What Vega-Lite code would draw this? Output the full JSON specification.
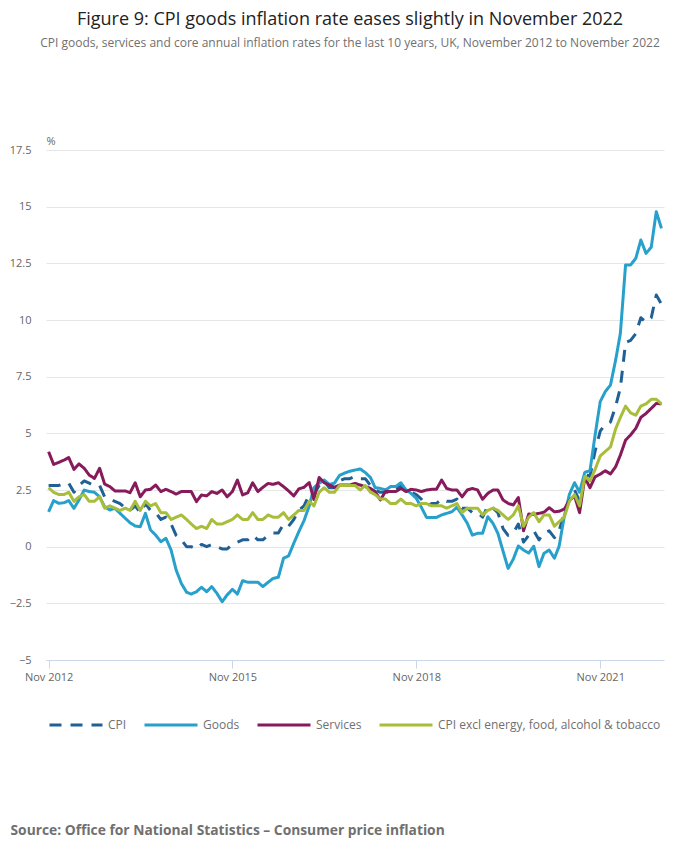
{
  "$schema": "https://vega.github.io/schema/vega-lite/v6.json",
  "width": 618,
  "height": 510,
  "autosize": "none",
  "padding": {"left": 46, "top": 150, "right": 36, "bottom": 197},
  "title": {
    "text": "Figure 9: CPI goods inflation rate eases slightly in November 2022",
    "subtitle": "CPI goods, services and core annual inflation rates for the last 10 years, UK, November 2012 to November 2022",
    "anchor": "middle",
    "frame": "group",
    "font": "Open Sans",
    "fontSize": 18,
    "fontWeight": "normal",
    "color": "#222222",
    "subtitleFont": "Open Sans",
    "subtitleFontSize": 12,
    "subtitleColor": "#707070",
    "subtitlePadding": 9,
    "offset": 86,
    "dx": -5
  },
  "config": {"view": {"stroke": null}, "font": "Open Sans"},
  "data": {
    "values": [
      {"date": "2012-11-01", "series": "CPI", "value": 2.7},
      {"date": "2012-12-01", "series": "CPI", "value": 2.7},
      {"date": "2013-01-01", "series": "CPI", "value": 2.7},
      {"date": "2013-02-01", "series": "CPI", "value": 2.8},
      {"date": "2013-03-01", "series": "CPI", "value": 2.8},
      {"date": "2013-04-01", "series": "CPI", "value": 2.4},
      {"date": "2013-05-01", "series": "CPI", "value": 2.7},
      {"date": "2013-06-01", "series": "CPI", "value": 2.9},
      {"date": "2013-07-01", "series": "CPI", "value": 2.8},
      {"date": "2013-08-01", "series": "CPI", "value": 2.7},
      {"date": "2013-09-01", "series": "CPI", "value": 2.7},
      {"date": "2013-10-01", "series": "CPI", "value": 2.2},
      {"date": "2013-11-01", "series": "CPI", "value": 2.1},
      {"date": "2013-12-01", "series": "CPI", "value": 2.0},
      {"date": "2014-01-01", "series": "CPI", "value": 1.9},
      {"date": "2014-02-01", "series": "CPI", "value": 1.7},
      {"date": "2014-03-01", "series": "CPI", "value": 1.6},
      {"date": "2014-04-01", "series": "CPI", "value": 1.8},
      {"date": "2014-05-01", "series": "CPI", "value": 1.5},
      {"date": "2014-06-01", "series": "CPI", "value": 1.9},
      {"date": "2014-07-01", "series": "CPI", "value": 1.6},
      {"date": "2014-08-01", "series": "CPI", "value": 1.5},
      {"date": "2014-09-01", "series": "CPI", "value": 1.2},
      {"date": "2014-10-01", "series": "CPI", "value": 1.3},
      {"date": "2014-11-01", "series": "CPI", "value": 1.0},
      {"date": "2014-12-01", "series": "CPI", "value": 0.5},
      {"date": "2015-01-01", "series": "CPI", "value": 0.3},
      {"date": "2015-02-01", "series": "CPI", "value": 0.0},
      {"date": "2015-03-01", "series": "CPI", "value": 0.0},
      {"date": "2015-04-01", "series": "CPI", "value": -0.1},
      {"date": "2015-05-01", "series": "CPI", "value": 0.1},
      {"date": "2015-06-01", "series": "CPI", "value": 0.0},
      {"date": "2015-07-01", "series": "CPI", "value": 0.1},
      {"date": "2015-08-01", "series": "CPI", "value": 0.0},
      {"date": "2015-09-01", "series": "CPI", "value": -0.1},
      {"date": "2015-10-01", "series": "CPI", "value": -0.1},
      {"date": "2015-11-01", "series": "CPI", "value": 0.1},
      {"date": "2015-12-01", "series": "CPI", "value": 0.2},
      {"date": "2016-01-01", "series": "CPI", "value": 0.3},
      {"date": "2016-02-01", "series": "CPI", "value": 0.3},
      {"date": "2016-03-01", "series": "CPI", "value": 0.5},
      {"date": "2016-04-01", "series": "CPI", "value": 0.3},
      {"date": "2016-05-01", "series": "CPI", "value": 0.3},
      {"date": "2016-06-01", "series": "CPI", "value": 0.5},
      {"date": "2016-07-01", "series": "CPI", "value": 0.6},
      {"date": "2016-08-01", "series": "CPI", "value": 0.6},
      {"date": "2016-09-01", "series": "CPI", "value": 1.0},
      {"date": "2016-10-01", "series": "CPI", "value": 0.9},
      {"date": "2016-11-01", "series": "CPI", "value": 1.2},
      {"date": "2016-12-01", "series": "CPI", "value": 1.6},
      {"date": "2017-01-01", "series": "CPI", "value": 1.8},
      {"date": "2017-02-01", "series": "CPI", "value": 2.3},
      {"date": "2017-03-01", "series": "CPI", "value": 2.3},
      {"date": "2017-04-01", "series": "CPI", "value": 2.7},
      {"date": "2017-05-01", "series": "CPI", "value": 2.9},
      {"date": "2017-06-01", "series": "CPI", "value": 2.6},
      {"date": "2017-07-01", "series": "CPI", "value": 2.6},
      {"date": "2017-08-01", "series": "CPI", "value": 2.9},
      {"date": "2017-09-01", "series": "CPI", "value": 3.0},
      {"date": "2017-10-01", "series": "CPI", "value": 3.0},
      {"date": "2017-11-01", "series": "CPI", "value": 3.1},
      {"date": "2017-12-01", "series": "CPI", "value": 3.0},
      {"date": "2018-01-01", "series": "CPI", "value": 3.0},
      {"date": "2018-02-01", "series": "CPI", "value": 2.7},
      {"date": "2018-03-01", "series": "CPI", "value": 2.5},
      {"date": "2018-04-01", "series": "CPI", "value": 2.4},
      {"date": "2018-05-01", "series": "CPI", "value": 2.4},
      {"date": "2018-06-01", "series": "CPI", "value": 2.4},
      {"date": "2018-07-01", "series": "CPI", "value": 2.5},
      {"date": "2018-08-01", "series": "CPI", "value": 2.7},
      {"date": "2018-09-01", "series": "CPI", "value": 2.4},
      {"date": "2018-10-01", "series": "CPI", "value": 2.4},
      {"date": "2018-11-01", "series": "CPI", "value": 2.3},
      {"date": "2018-12-01", "series": "CPI", "value": 2.1},
      {"date": "2019-01-01", "series": "CPI", "value": 1.8},
      {"date": "2019-02-01", "series": "CPI", "value": 1.9},
      {"date": "2019-03-01", "series": "CPI", "value": 1.9},
      {"date": "2019-04-01", "series": "CPI", "value": 2.1},
      {"date": "2019-05-01", "series": "CPI", "value": 2.0},
      {"date": "2019-06-01", "series": "CPI", "value": 2.0},
      {"date": "2019-07-01", "series": "CPI", "value": 2.1},
      {"date": "2019-08-01", "series": "CPI", "value": 1.7},
      {"date": "2019-09-01", "series": "CPI", "value": 1.7},
      {"date": "2019-10-01", "series": "CPI", "value": 1.5},
      {"date": "2019-11-01", "series": "CPI", "value": 1.5},
      {"date": "2019-12-01", "series": "CPI", "value": 1.3},
      {"date": "2020-01-01", "series": "CPI", "value": 1.8},
      {"date": "2020-02-01", "series": "CPI", "value": 1.7},
      {"date": "2020-03-01", "series": "CPI", "value": 1.5},
      {"date": "2020-04-01", "series": "CPI", "value": 0.8},
      {"date": "2020-05-01", "series": "CPI", "value": 0.5},
      {"date": "2020-06-01", "series": "CPI", "value": 0.6},
      {"date": "2020-07-01", "series": "CPI", "value": 1.0},
      {"date": "2020-08-01", "series": "CPI", "value": 0.2},
      {"date": "2020-09-01", "series": "CPI", "value": 0.5},
      {"date": "2020-10-01", "series": "CPI", "value": 0.7},
      {"date": "2020-11-01", "series": "CPI", "value": 0.3},
      {"date": "2020-12-01", "series": "CPI", "value": 0.6},
      {"date": "2021-01-01", "series": "CPI", "value": 0.7},
      {"date": "2021-02-01", "series": "CPI", "value": 0.4},
      {"date": "2021-03-01", "series": "CPI", "value": 0.7},
      {"date": "2021-04-01", "series": "CPI", "value": 1.5},
      {"date": "2021-05-01", "series": "CPI", "value": 2.1},
      {"date": "2021-06-01", "series": "CPI", "value": 2.5},
      {"date": "2021-07-01", "series": "CPI", "value": 2.0},
      {"date": "2021-08-01", "series": "CPI", "value": 3.2},
      {"date": "2021-09-01", "series": "CPI", "value": 3.1},
      {"date": "2021-10-01", "series": "CPI", "value": 4.2},
      {"date": "2021-11-01", "series": "CPI", "value": 5.1},
      {"date": "2021-12-01", "series": "CPI", "value": 5.4},
      {"date": "2022-01-01", "series": "CPI", "value": 5.5},
      {"date": "2022-02-01", "series": "CPI", "value": 6.2},
      {"date": "2022-03-01", "series": "CPI", "value": 7.0},
      {"date": "2022-04-01", "series": "CPI", "value": 9.0},
      {"date": "2022-05-01", "series": "CPI", "value": 9.1},
      {"date": "2022-06-01", "series": "CPI", "value": 9.4},
      {"date": "2022-07-01", "series": "CPI", "value": 10.1},
      {"date": "2022-08-01", "series": "CPI", "value": 9.9},
      {"date": "2022-09-01", "series": "CPI", "value": 10.1},
      {"date": "2022-10-01", "series": "CPI", "value": 11.1},
      {"date": "2022-11-01", "series": "CPI", "value": 10.7},
      {"date": "2012-11-01", "series": "Goods", "value": 1.54},
      {"date": "2012-12-01", "series": "Goods", "value": 2.03},
      {"date": "2013-01-01", "series": "Goods", "value": 1.91},
      {"date": "2013-02-01", "series": "Goods", "value": 1.94},
      {"date": "2013-03-01", "series": "Goods", "value": 2.03},
      {"date": "2013-04-01", "series": "Goods", "value": 1.69},
      {"date": "2013-05-01", "series": "Goods", "value": 2.06},
      {"date": "2013-06-01", "series": "Goods", "value": 2.5},
      {"date": "2013-07-01", "series": "Goods", "value": 2.43},
      {"date": "2013-08-01", "series": "Goods", "value": 2.4},
      {"date": "2013-09-01", "series": "Goods", "value": 2.2},
      {"date": "2013-10-01", "series": "Goods", "value": 1.76},
      {"date": "2013-11-01", "series": "Goods", "value": 1.62},
      {"date": "2013-12-01", "series": "Goods", "value": 1.69},
      {"date": "2014-01-01", "series": "Goods", "value": 1.47},
      {"date": "2014-02-01", "series": "Goods", "value": 1.25},
      {"date": "2014-03-01", "series": "Goods", "value": 1.06},
      {"date": "2014-04-01", "series": "Goods", "value": 0.91},
      {"date": "2014-05-01", "series": "Goods", "value": 0.88},
      {"date": "2014-06-01", "series": "Goods", "value": 1.47},
      {"date": "2014-07-01", "series": "Goods", "value": 0.74},
      {"date": "2014-08-01", "series": "Goods", "value": 0.51},
      {"date": "2014-09-01", "series": "Goods", "value": 0.22},
      {"date": "2014-10-01", "series": "Goods", "value": 0.37},
      {"date": "2014-11-01", "series": "Goods", "value": -0.15},
      {"date": "2014-12-01", "series": "Goods", "value": -1.03},
      {"date": "2015-01-01", "series": "Goods", "value": -1.62},
      {"date": "2015-02-01", "series": "Goods", "value": -2.01},
      {"date": "2015-03-01", "series": "Goods", "value": -2.09},
      {"date": "2015-04-01", "series": "Goods", "value": -1.99},
      {"date": "2015-05-01", "series": "Goods", "value": -1.79},
      {"date": "2015-06-01", "series": "Goods", "value": -1.99},
      {"date": "2015-07-01", "series": "Goods", "value": -1.76},
      {"date": "2015-08-01", "series": "Goods", "value": -2.06},
      {"date": "2015-09-01", "series": "Goods", "value": -2.43},
      {"date": "2015-10-01", "series": "Goods", "value": -2.13},
      {"date": "2015-11-01", "series": "Goods", "value": -1.88},
      {"date": "2015-12-01", "series": "Goods", "value": -2.09},
      {"date": "2016-01-01", "series": "Goods", "value": -1.5},
      {"date": "2016-02-01", "series": "Goods", "value": -1.57},
      {"date": "2016-03-01", "series": "Goods", "value": -1.57},
      {"date": "2016-04-01", "series": "Goods", "value": -1.57},
      {"date": "2016-05-01", "series": "Goods", "value": -1.76},
      {"date": "2016-06-01", "series": "Goods", "value": -1.57},
      {"date": "2016-07-01", "series": "Goods", "value": -1.4},
      {"date": "2016-08-01", "series": "Goods", "value": -1.35},
      {"date": "2016-09-01", "series": "Goods", "value": -0.51},
      {"date": "2016-10-01", "series": "Goods", "value": -0.41},
      {"date": "2016-11-01", "series": "Goods", "value": 0.15},
      {"date": "2016-12-01", "series": "Goods", "value": 0.66},
      {"date": "2017-01-01", "series": "Goods", "value": 1.15},
      {"date": "2017-02-01", "series": "Goods", "value": 1.8},
      {"date": "2017-03-01", "series": "Goods", "value": 2.6},
      {"date": "2017-04-01", "series": "Goods", "value": 2.8},
      {"date": "2017-05-01", "series": "Goods", "value": 2.94},
      {"date": "2017-06-01", "series": "Goods", "value": 2.75},
      {"date": "2017-07-01", "series": "Goods", "value": 2.8},
      {"date": "2017-08-01", "series": "Goods", "value": 3.15},
      {"date": "2017-09-01", "series": "Goods", "value": 3.25},
      {"date": "2017-10-01", "series": "Goods", "value": 3.33},
      {"date": "2017-11-01", "series": "Goods", "value": 3.38},
      {"date": "2017-12-01", "series": "Goods", "value": 3.43},
      {"date": "2018-01-01", "series": "Goods", "value": 3.27},
      {"date": "2018-02-01", "series": "Goods", "value": 3.05},
      {"date": "2018-03-01", "series": "Goods", "value": 2.6},
      {"date": "2018-04-01", "series": "Goods", "value": 2.57},
      {"date": "2018-05-01", "series": "Goods", "value": 2.5},
      {"date": "2018-06-01", "series": "Goods", "value": 2.65},
      {"date": "2018-07-01", "series": "Goods", "value": 2.65},
      {"date": "2018-08-01", "series": "Goods", "value": 2.82},
      {"date": "2018-09-01", "series": "Goods", "value": 2.5},
      {"date": "2018-10-01", "series": "Goods", "value": 2.35},
      {"date": "2018-11-01", "series": "Goods", "value": 2.13},
      {"date": "2018-12-01", "series": "Goods", "value": 1.74},
      {"date": "2019-01-01", "series": "Goods", "value": 1.29},
      {"date": "2019-02-01", "series": "Goods", "value": 1.29},
      {"date": "2019-03-01", "series": "Goods", "value": 1.29},
      {"date": "2019-04-01", "series": "Goods", "value": 1.4},
      {"date": "2019-05-01", "series": "Goods", "value": 1.47},
      {"date": "2019-06-01", "series": "Goods", "value": 1.54},
      {"date": "2019-07-01", "series": "Goods", "value": 1.74},
      {"date": "2019-08-01", "series": "Goods", "value": 1.4},
      {"date": "2019-09-01", "series": "Goods", "value": 1.03},
      {"date": "2019-10-01", "series": "Goods", "value": 0.51},
      {"date": "2019-11-01", "series": "Goods", "value": 0.59},
      {"date": "2019-12-01", "series": "Goods", "value": 0.59},
      {"date": "2020-01-01", "series": "Goods", "value": 1.32},
      {"date": "2020-02-01", "series": "Goods", "value": 1.03},
      {"date": "2020-03-01", "series": "Goods", "value": 0.59},
      {"date": "2020-04-01", "series": "Goods", "value": -0.2},
      {"date": "2020-05-01", "series": "Goods", "value": -0.96},
      {"date": "2020-06-01", "series": "Goods", "value": -0.55},
      {"date": "2020-07-01", "series": "Goods", "value": 0.03},
      {"date": "2020-08-01", "series": "Goods", "value": -0.15},
      {"date": "2020-09-01", "series": "Goods", "value": -0.28},
      {"date": "2020-10-01", "series": "Goods", "value": 0.02},
      {"date": "2020-11-01", "series": "Goods", "value": -0.88},
      {"date": "2020-12-01", "series": "Goods", "value": -0.29},
      {"date": "2021-01-01", "series": "Goods", "value": -0.15},
      {"date": "2021-02-01", "series": "Goods", "value": -0.51},
      {"date": "2021-03-01", "series": "Goods", "value": 0.02},
      {"date": "2021-04-01", "series": "Goods", "value": 1.35},
      {"date": "2021-05-01", "series": "Goods", "value": 2.3},
      {"date": "2021-06-01", "series": "Goods", "value": 2.82},
      {"date": "2021-07-01", "series": "Goods", "value": 2.4},
      {"date": "2021-08-01", "series": "Goods", "value": 3.28},
      {"date": "2021-09-01", "series": "Goods", "value": 3.35},
      {"date": "2021-10-01", "series": "Goods", "value": 4.9},
      {"date": "2021-11-01", "series": "Goods", "value": 6.4},
      {"date": "2021-12-01", "series": "Goods", "value": 6.84},
      {"date": "2022-01-01", "series": "Goods", "value": 7.13},
      {"date": "2022-02-01", "series": "Goods", "value": 8.24},
      {"date": "2022-03-01", "series": "Goods", "value": 9.41},
      {"date": "2022-04-01", "series": "Goods", "value": 12.43},
      {"date": "2022-05-01", "series": "Goods", "value": 12.43},
      {"date": "2022-06-01", "series": "Goods", "value": 12.72},
      {"date": "2022-07-01", "series": "Goods", "value": 13.53},
      {"date": "2022-08-01", "series": "Goods", "value": 12.94},
      {"date": "2022-09-01", "series": "Goods", "value": 13.21},
      {"date": "2022-10-01", "series": "Goods", "value": 14.78},
      {"date": "2022-11-01", "series": "Goods", "value": 14.04},
      {"date": "2012-11-01", "series": "Services", "value": 4.19},
      {"date": "2012-12-01", "series": "Services", "value": 3.63},
      {"date": "2013-01-01", "series": "Services", "value": 3.72},
      {"date": "2013-02-01", "series": "Services", "value": 3.82},
      {"date": "2013-03-01", "series": "Services", "value": 3.93},
      {"date": "2013-04-01", "series": "Services", "value": 3.41},
      {"date": "2013-05-01", "series": "Services", "value": 3.65},
      {"date": "2013-06-01", "series": "Services", "value": 3.46},
      {"date": "2013-07-01", "series": "Services", "value": 3.16},
      {"date": "2013-08-01", "series": "Services", "value": 3.01},
      {"date": "2013-09-01", "series": "Services", "value": 3.46},
      {"date": "2013-10-01", "series": "Services", "value": 2.76},
      {"date": "2013-11-01", "series": "Services", "value": 2.65},
      {"date": "2013-12-01", "series": "Services", "value": 2.46},
      {"date": "2014-01-01", "series": "Services", "value": 2.46},
      {"date": "2014-02-01", "series": "Services", "value": 2.46},
      {"date": "2014-03-01", "series": "Services", "value": 2.38},
      {"date": "2014-04-01", "series": "Services", "value": 2.82},
      {"date": "2014-05-01", "series": "Services", "value": 2.2},
      {"date": "2014-06-01", "series": "Services", "value": 2.5},
      {"date": "2014-07-01", "series": "Services", "value": 2.53},
      {"date": "2014-08-01", "series": "Services", "value": 2.72},
      {"date": "2014-09-01", "series": "Services", "value": 2.43},
      {"date": "2014-10-01", "series": "Services", "value": 2.53},
      {"date": "2014-11-01", "series": "Services", "value": 2.43},
      {"date": "2014-12-01", "series": "Services", "value": 2.32},
      {"date": "2015-01-01", "series": "Services", "value": 2.43},
      {"date": "2015-02-01", "series": "Services", "value": 2.43},
      {"date": "2015-03-01", "series": "Services", "value": 2.43},
      {"date": "2015-04-01", "series": "Services", "value": 1.99},
      {"date": "2015-05-01", "series": "Services", "value": 2.28},
      {"date": "2015-06-01", "series": "Services", "value": 2.24},
      {"date": "2015-07-01", "series": "Services", "value": 2.43},
      {"date": "2015-08-01", "series": "Services", "value": 2.35},
      {"date": "2015-09-01", "series": "Services", "value": 2.5},
      {"date": "2015-10-01", "series": "Services", "value": 2.2},
      {"date": "2015-11-01", "series": "Services", "value": 2.43},
      {"date": "2015-12-01", "series": "Services", "value": 2.94},
      {"date": "2016-01-01", "series": "Services", "value": 2.28},
      {"date": "2016-02-01", "series": "Services", "value": 2.38},
      {"date": "2016-03-01", "series": "Services", "value": 2.82},
      {"date": "2016-04-01", "series": "Services", "value": 2.43},
      {"date": "2016-05-01", "series": "Services", "value": 2.62},
      {"date": "2016-06-01", "series": "Services", "value": 2.79},
      {"date": "2016-07-01", "series": "Services", "value": 2.75},
      {"date": "2016-08-01", "series": "Services", "value": 2.82},
      {"date": "2016-09-01", "series": "Services", "value": 2.65},
      {"date": "2016-10-01", "series": "Services", "value": 2.46},
      {"date": "2016-11-01", "series": "Services", "value": 2.24},
      {"date": "2016-12-01", "series": "Services", "value": 2.55},
      {"date": "2017-01-01", "series": "Services", "value": 2.62},
      {"date": "2017-02-01", "series": "Services", "value": 2.83},
      {"date": "2017-03-01", "series": "Services", "value": 2.08},
      {"date": "2017-04-01", "series": "Services", "value": 3.05},
      {"date": "2017-05-01", "series": "Services", "value": 2.82},
      {"date": "2017-06-01", "series": "Services", "value": 2.72},
      {"date": "2017-07-01", "series": "Services", "value": 2.62},
      {"date": "2017-08-01", "series": "Services", "value": 2.72},
      {"date": "2017-09-01", "series": "Services", "value": 2.72},
      {"date": "2017-10-01", "series": "Services", "value": 2.72},
      {"date": "2017-11-01", "series": "Services", "value": 2.79},
      {"date": "2017-12-01", "series": "Services", "value": 2.72},
      {"date": "2018-01-01", "series": "Services", "value": 2.65},
      {"date": "2018-02-01", "series": "Services", "value": 2.57},
      {"date": "2018-03-01", "series": "Services", "value": 2.43},
      {"date": "2018-04-01", "series": "Services", "value": 2.06},
      {"date": "2018-05-01", "series": "Services", "value": 2.43},
      {"date": "2018-06-01", "series": "Services", "value": 2.43},
      {"date": "2018-07-01", "series": "Services", "value": 2.43},
      {"date": "2018-08-01", "series": "Services", "value": 2.57},
      {"date": "2018-09-01", "series": "Services", "value": 2.43},
      {"date": "2018-10-01", "series": "Services", "value": 2.53},
      {"date": "2018-11-01", "series": "Services", "value": 2.5},
      {"date": "2018-12-01", "series": "Services", "value": 2.43},
      {"date": "2019-01-01", "series": "Services", "value": 2.5},
      {"date": "2019-02-01", "series": "Services", "value": 2.53},
      {"date": "2019-03-01", "series": "Services", "value": 2.53},
      {"date": "2019-04-01", "series": "Services", "value": 2.94},
      {"date": "2019-05-01", "series": "Services", "value": 2.57},
      {"date": "2019-06-01", "series": "Services", "value": 2.5},
      {"date": "2019-07-01", "series": "Services", "value": 2.5},
      {"date": "2019-08-01", "series": "Services", "value": 2.2},
      {"date": "2019-09-01", "series": "Services", "value": 2.5},
      {"date": "2019-10-01", "series": "Services", "value": 2.57},
      {"date": "2019-11-01", "series": "Services", "value": 2.5},
      {"date": "2019-12-01", "series": "Services", "value": 2.09},
      {"date": "2020-01-01", "series": "Services", "value": 2.35},
      {"date": "2020-02-01", "series": "Services", "value": 2.5},
      {"date": "2020-03-01", "series": "Services", "value": 2.5},
      {"date": "2020-04-01", "series": "Services", "value": 2.06},
      {"date": "2020-05-01", "series": "Services", "value": 1.91},
      {"date": "2020-06-01", "series": "Services", "value": 1.84},
      {"date": "2020-07-01", "series": "Services", "value": 2.17},
      {"date": "2020-08-01", "series": "Services", "value": 0.7},
      {"date": "2020-09-01", "series": "Services", "value": 1.44},
      {"date": "2020-10-01", "series": "Services", "value": 1.42},
      {"date": "2020-11-01", "series": "Services", "value": 1.47},
      {"date": "2020-12-01", "series": "Services", "value": 1.52},
      {"date": "2021-01-01", "series": "Services", "value": 1.72},
      {"date": "2021-02-01", "series": "Services", "value": 1.54},
      {"date": "2021-03-01", "series": "Services", "value": 1.56},
      {"date": "2021-04-01", "series": "Services", "value": 1.66},
      {"date": "2021-05-01", "series": "Services", "value": 2.03},
      {"date": "2021-06-01", "series": "Services", "value": 2.24},
      {"date": "2021-07-01", "series": "Services", "value": 1.5},
      {"date": "2021-08-01", "series": "Services", "value": 3.05},
      {"date": "2021-09-01", "series": "Services", "value": 2.6},
      {"date": "2021-10-01", "series": "Services", "value": 3.08},
      {"date": "2021-11-01", "series": "Services", "value": 3.2},
      {"date": "2021-12-01", "series": "Services", "value": 3.35},
      {"date": "2022-01-01", "series": "Services", "value": 3.21},
      {"date": "2022-02-01", "series": "Services", "value": 3.53},
      {"date": "2022-03-01", "series": "Services", "value": 4.04},
      {"date": "2022-04-01", "series": "Services", "value": 4.7},
      {"date": "2022-05-01", "series": "Services", "value": 4.93},
      {"date": "2022-06-01", "series": "Services", "value": 5.22},
      {"date": "2022-07-01", "series": "Services", "value": 5.7},
      {"date": "2022-08-01", "series": "Services", "value": 5.88},
      {"date": "2022-09-01", "series": "Services", "value": 6.1},
      {"date": "2022-10-01", "series": "Services", "value": 6.32},
      {"date": "2022-11-01", "series": "Services", "value": 6.3},
      {"date": "2012-11-01", "series": "CPI excl energy, food, alcohol & tobacco", "value": 2.6},
      {"date": "2012-12-01", "series": "CPI excl energy, food, alcohol & tobacco", "value": 2.4},
      {"date": "2013-01-01", "series": "CPI excl energy, food, alcohol & tobacco", "value": 2.3},
      {"date": "2013-02-01", "series": "CPI excl energy, food, alcohol & tobacco", "value": 2.3},
      {"date": "2013-03-01", "series": "CPI excl energy, food, alcohol & tobacco", "value": 2.4},
      {"date": "2013-04-01", "series": "CPI excl energy, food, alcohol & tobacco", "value": 2.0},
      {"date": "2013-05-01", "series": "CPI excl energy, food, alcohol & tobacco", "value": 2.2},
      {"date": "2013-06-01", "series": "CPI excl energy, food, alcohol & tobacco", "value": 2.3},
      {"date": "2013-07-01", "series": "CPI excl energy, food, alcohol & tobacco", "value": 2.0},
      {"date": "2013-08-01", "series": "CPI excl energy, food, alcohol & tobacco", "value": 2.0},
      {"date": "2013-09-01", "series": "CPI excl energy, food, alcohol & tobacco", "value": 2.2},
      {"date": "2013-10-01", "series": "CPI excl energy, food, alcohol & tobacco", "value": 1.7},
      {"date": "2013-11-01", "series": "CPI excl energy, food, alcohol & tobacco", "value": 1.8},
      {"date": "2013-12-01", "series": "CPI excl energy, food, alcohol & tobacco", "value": 1.7},
      {"date": "2014-01-01", "series": "CPI excl energy, food, alcohol & tobacco", "value": 1.6},
      {"date": "2014-02-01", "series": "CPI excl energy, food, alcohol & tobacco", "value": 1.7},
      {"date": "2014-03-01", "series": "CPI excl energy, food, alcohol & tobacco", "value": 1.6},
      {"date": "2014-04-01", "series": "CPI excl energy, food, alcohol & tobacco", "value": 2.0},
      {"date": "2014-05-01", "series": "CPI excl energy, food, alcohol & tobacco", "value": 1.6},
      {"date": "2014-06-01", "series": "CPI excl energy, food, alcohol & tobacco", "value": 2.0},
      {"date": "2014-07-01", "series": "CPI excl energy, food, alcohol & tobacco", "value": 1.8},
      {"date": "2014-08-01", "series": "CPI excl energy, food, alcohol & tobacco", "value": 1.9},
      {"date": "2014-09-01", "series": "CPI excl energy, food, alcohol & tobacco", "value": 1.5},
      {"date": "2014-10-01", "series": "CPI excl energy, food, alcohol & tobacco", "value": 1.5},
      {"date": "2014-11-01", "series": "CPI excl energy, food, alcohol & tobacco", "value": 1.2},
      {"date": "2014-12-01", "series": "CPI excl energy, food, alcohol & tobacco", "value": 1.3},
      {"date": "2015-01-01", "series": "CPI excl energy, food, alcohol & tobacco", "value": 1.4},
      {"date": "2015-02-01", "series": "CPI excl energy, food, alcohol & tobacco", "value": 1.2},
      {"date": "2015-03-01", "series": "CPI excl energy, food, alcohol & tobacco", "value": 1.0},
      {"date": "2015-04-01", "series": "CPI excl energy, food, alcohol & tobacco", "value": 0.8},
      {"date": "2015-05-01", "series": "CPI excl energy, food, alcohol & tobacco", "value": 0.9},
      {"date": "2015-06-01", "series": "CPI excl energy, food, alcohol & tobacco", "value": 0.8},
      {"date": "2015-07-01", "series": "CPI excl energy, food, alcohol & tobacco", "value": 1.2},
      {"date": "2015-08-01", "series": "CPI excl energy, food, alcohol & tobacco", "value": 1.0},
      {"date": "2015-09-01", "series": "CPI excl energy, food, alcohol & tobacco", "value": 1.0},
      {"date": "2015-10-01", "series": "CPI excl energy, food, alcohol & tobacco", "value": 1.1},
      {"date": "2015-11-01", "series": "CPI excl energy, food, alcohol & tobacco", "value": 1.2},
      {"date": "2015-12-01", "series": "CPI excl energy, food, alcohol & tobacco", "value": 1.4},
      {"date": "2016-01-01", "series": "CPI excl energy, food, alcohol & tobacco", "value": 1.2},
      {"date": "2016-02-01", "series": "CPI excl energy, food, alcohol & tobacco", "value": 1.2},
      {"date": "2016-03-01", "series": "CPI excl energy, food, alcohol & tobacco", "value": 1.5},
      {"date": "2016-04-01", "series": "CPI excl energy, food, alcohol & tobacco", "value": 1.2},
      {"date": "2016-05-01", "series": "CPI excl energy, food, alcohol & tobacco", "value": 1.2},
      {"date": "2016-06-01", "series": "CPI excl energy, food, alcohol & tobacco", "value": 1.4},
      {"date": "2016-07-01", "series": "CPI excl energy, food, alcohol & tobacco", "value": 1.3},
      {"date": "2016-08-01", "series": "CPI excl energy, food, alcohol & tobacco", "value": 1.3},
      {"date": "2016-09-01", "series": "CPI excl energy, food, alcohol & tobacco", "value": 1.5},
      {"date": "2016-10-01", "series": "CPI excl energy, food, alcohol & tobacco", "value": 1.2},
      {"date": "2016-11-01", "series": "CPI excl energy, food, alcohol & tobacco", "value": 1.4},
      {"date": "2016-12-01", "series": "CPI excl energy, food, alcohol & tobacco", "value": 1.6},
      {"date": "2017-01-01", "series": "CPI excl energy, food, alcohol & tobacco", "value": 1.6},
      {"date": "2017-02-01", "series": "CPI excl energy, food, alcohol & tobacco", "value": 2.0},
      {"date": "2017-03-01", "series": "CPI excl energy, food, alcohol & tobacco", "value": 1.8},
      {"date": "2017-04-01", "series": "CPI excl energy, food, alcohol & tobacco", "value": 2.4},
      {"date": "2017-05-01", "series": "CPI excl energy, food, alcohol & tobacco", "value": 2.6},
      {"date": "2017-06-01", "series": "CPI excl energy, food, alcohol & tobacco", "value": 2.4},
      {"date": "2017-07-01", "series": "CPI excl energy, food, alcohol & tobacco", "value": 2.4},
      {"date": "2017-08-01", "series": "CPI excl energy, food, alcohol & tobacco", "value": 2.7},
      {"date": "2017-09-01", "series": "CPI excl energy, food, alcohol & tobacco", "value": 2.7},
      {"date": "2017-10-01", "series": "CPI excl energy, food, alcohol & tobacco", "value": 2.7},
      {"date": "2017-11-01", "series": "CPI excl energy, food, alcohol & tobacco", "value": 2.7},
      {"date": "2017-12-01", "series": "CPI excl energy, food, alcohol & tobacco", "value": 2.5},
      {"date": "2018-01-01", "series": "CPI excl energy, food, alcohol & tobacco", "value": 2.7},
      {"date": "2018-02-01", "series": "CPI excl energy, food, alcohol & tobacco", "value": 2.4},
      {"date": "2018-03-01", "series": "CPI excl energy, food, alcohol & tobacco", "value": 2.3},
      {"date": "2018-04-01", "series": "CPI excl energy, food, alcohol & tobacco", "value": 2.1},
      {"date": "2018-05-01", "series": "CPI excl energy, food, alcohol & tobacco", "value": 2.1},
      {"date": "2018-06-01", "series": "CPI excl energy, food, alcohol & tobacco", "value": 1.9},
      {"date": "2018-07-01", "series": "CPI excl energy, food, alcohol & tobacco", "value": 1.9},
      {"date": "2018-08-01", "series": "CPI excl energy, food, alcohol & tobacco", "value": 2.1},
      {"date": "2018-09-01", "series": "CPI excl energy, food, alcohol & tobacco", "value": 1.9},
      {"date": "2018-10-01", "series": "CPI excl energy, food, alcohol & tobacco", "value": 1.9},
      {"date": "2018-11-01", "series": "CPI excl energy, food, alcohol & tobacco", "value": 1.8},
      {"date": "2018-12-01", "series": "CPI excl energy, food, alcohol & tobacco", "value": 1.9},
      {"date": "2019-01-01", "series": "CPI excl energy, food, alcohol & tobacco", "value": 1.9},
      {"date": "2019-02-01", "series": "CPI excl energy, food, alcohol & tobacco", "value": 1.8},
      {"date": "2019-03-01", "series": "CPI excl energy, food, alcohol & tobacco", "value": 1.8},
      {"date": "2019-04-01", "series": "CPI excl energy, food, alcohol & tobacco", "value": 1.8},
      {"date": "2019-05-01", "series": "CPI excl energy, food, alcohol & tobacco", "value": 1.7},
      {"date": "2019-06-01", "series": "CPI excl energy, food, alcohol & tobacco", "value": 1.8},
      {"date": "2019-07-01", "series": "CPI excl energy, food, alcohol & tobacco", "value": 1.9},
      {"date": "2019-08-01", "series": "CPI excl energy, food, alcohol & tobacco", "value": 1.5},
      {"date": "2019-09-01", "series": "CPI excl energy, food, alcohol & tobacco", "value": 1.7},
      {"date": "2019-10-01", "series": "CPI excl energy, food, alcohol & tobacco", "value": 1.7},
      {"date": "2019-11-01", "series": "CPI excl energy, food, alcohol & tobacco", "value": 1.7},
      {"date": "2019-12-01", "series": "CPI excl energy, food, alcohol & tobacco", "value": 1.4},
      {"date": "2020-01-01", "series": "CPI excl energy, food, alcohol & tobacco", "value": 1.6},
      {"date": "2020-02-01", "series": "CPI excl energy, food, alcohol & tobacco", "value": 1.7},
      {"date": "2020-03-01", "series": "CPI excl energy, food, alcohol & tobacco", "value": 1.6},
      {"date": "2020-04-01", "series": "CPI excl energy, food, alcohol & tobacco", "value": 1.4},
      {"date": "2020-05-01", "series": "CPI excl energy, food, alcohol & tobacco", "value": 1.2},
      {"date": "2020-06-01", "series": "CPI excl energy, food, alcohol & tobacco", "value": 1.4},
      {"date": "2020-07-01", "series": "CPI excl energy, food, alcohol & tobacco", "value": 1.8},
      {"date": "2020-08-01", "series": "CPI excl energy, food, alcohol & tobacco", "value": 0.9},
      {"date": "2020-09-01", "series": "CPI excl energy, food, alcohol & tobacco", "value": 1.3},
      {"date": "2020-10-01", "series": "CPI excl energy, food, alcohol & tobacco", "value": 1.5},
      {"date": "2020-11-01", "series": "CPI excl energy, food, alcohol & tobacco", "value": 1.1},
      {"date": "2020-12-01", "series": "CPI excl energy, food, alcohol & tobacco", "value": 1.4},
      {"date": "2021-01-01", "series": "CPI excl energy, food, alcohol & tobacco", "value": 1.4},
      {"date": "2021-02-01", "series": "CPI excl energy, food, alcohol & tobacco", "value": 0.9},
      {"date": "2021-03-01", "series": "CPI excl energy, food, alcohol & tobacco", "value": 1.1},
      {"date": "2021-04-01", "series": "CPI excl energy, food, alcohol & tobacco", "value": 1.3},
      {"date": "2021-05-01", "series": "CPI excl energy, food, alcohol & tobacco", "value": 2.0},
      {"date": "2021-06-01", "series": "CPI excl energy, food, alcohol & tobacco", "value": 2.3},
      {"date": "2021-07-01", "series": "CPI excl energy, food, alcohol & tobacco", "value": 1.8},
      {"date": "2021-08-01", "series": "CPI excl energy, food, alcohol & tobacco", "value": 3.1},
      {"date": "2021-09-01", "series": "CPI excl energy, food, alcohol & tobacco", "value": 2.9},
      {"date": "2021-10-01", "series": "CPI excl energy, food, alcohol & tobacco", "value": 3.4},
      {"date": "2021-11-01", "series": "CPI excl energy, food, alcohol & tobacco", "value": 4.0},
      {"date": "2021-12-01", "series": "CPI excl energy, food, alcohol & tobacco", "value": 4.2},
      {"date": "2022-01-01", "series": "CPI excl energy, food, alcohol & tobacco", "value": 4.4},
      {"date": "2022-02-01", "series": "CPI excl energy, food, alcohol & tobacco", "value": 5.2},
      {"date": "2022-03-01", "series": "CPI excl energy, food, alcohol & tobacco", "value": 5.7},
      {"date": "2022-04-01", "series": "CPI excl energy, food, alcohol & tobacco", "value": 6.2},
      {"date": "2022-05-01", "series": "CPI excl energy, food, alcohol & tobacco", "value": 5.9},
      {"date": "2022-06-01", "series": "CPI excl energy, food, alcohol & tobacco", "value": 5.8},
      {"date": "2022-07-01", "series": "CPI excl energy, food, alcohol & tobacco", "value": 6.2},
      {"date": "2022-08-01", "series": "CPI excl energy, food, alcohol & tobacco", "value": 6.3},
      {"date": "2022-09-01", "series": "CPI excl energy, food, alcohol & tobacco", "value": 6.5},
      {"date": "2022-10-01", "series": "CPI excl energy, food, alcohol & tobacco", "value": 6.5},
      {"date": "2022-11-01", "series": "CPI excl energy, food, alcohol & tobacco", "value": 6.3}
    ]
  },
  "mark": {"type": "line", "strokeWidth": 3, "strokeJoin": "round", "strokeCap": "butt"},
  "encoding": {
    "x": {
      "field": "date",
      "type": "temporal",
      "scale": {"type": "utc", "domain": [1350388800000, 1668556800000]},
      "axis": {
        "values": [1351728000000, 1446336000000, 1541030400000, 1635724800000],
        "format": "%b %Y",
        "grid": false,
        "labelFlush": false,
        "domainColor": "#ccd6eb",
        "tickColor": "#ccd6eb",
        "tickSize": 8,
        "labelPadding": 3,
        "labelFont": "Open Sans",
        "labelFontSize": 11,
        "labelColor": "#666666",
        "title": "Source: Office for National Statistics – Consumer price inflation",
        "titleFont": "Open Sans",
        "titleFontSize": 13.8,
        "titleFontWeight": "bold",
        "titleColor": "#707070",
        "titleAlign": "left",
        "titleBaseline": "middle",
        "titleX": -36,
        "titleY": 170
      }
    },
    "y": {
      "field": "value",
      "type": "quantitative",
      "scale": {"domain": [-5, 17.5], "nice": false, "zero": false},
      "axis": {
        "values": [-5, -2.5, 0, 2.5, 5, 7.5, 10, 12.5, 15, 17.5],
        "format": ".3~g",
        "grid": true,
        "gridColor": "#e6e6e6",
        "domain": false,
        "ticks": false,
        "labelPadding": 15,
        "labelFont": "Open Sans",
        "labelFontSize": 11,
        "labelColor": "#666666",
        "title": "%",
        "titleAngle": 0,
        "titleAlign": "left",
        "titleBaseline": "bottom",
        "titleX": 0,
        "titleY": -4,
        "titleFont": "Open Sans",
        "titleFontSize": 11,
        "titleFontWeight": "normal",
        "titleColor": "#666666"
      }
    },
    "color": {
      "field": "series",
      "type": "nominal",
      "scale": {
        "domain": ["CPI", "Goods", "Services", "CPI excl energy, food, alcohol & tobacco"],
        "range": ["#206095", "#27a0cc", "#871a5b", "#a8bd3a"]
      },
      "legend": {
        "title": null,
        "orient": "none",
        "direction": "horizontal",
        "legendX": 2,
        "legendY": 547,
        "padding": 0,
        "symbolType": "stroke",
        "symbolSize": 2809,
        "symbolStrokeWidth": 3,
        "labelFont": "Open Sans",
        "labelFontSize": 12,
        "labelColor": "#707070",
        "labelOffset": 4,
        "labelLimit": 400,
        "columnPadding": 11
      }
    },
    "strokeDash": {
      "field": "series",
      "type": "nominal",
      "scale": {
        "domain": ["CPI", "Goods", "Services", "CPI excl energy, food, alcohol & tobacco"],
        "range": [[12, 9], [1, 0], [1, 0], [1, 0]]
      }
    }
  }
}
